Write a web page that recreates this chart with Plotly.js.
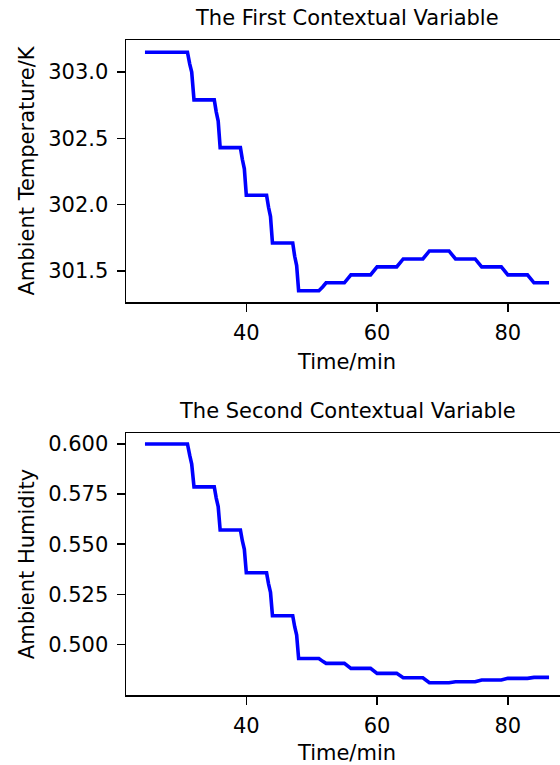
<!DOCTYPE html>
<html>
<head>
<meta charset="utf-8">
<script src="https://cdn.plot.ly/plotly-3.0.1.min.js"></script>
<style>
html, body { margin: 0; padding: 0; overflow: hidden; background: #fff; }
#chart { width: 580px; height: 765px; }
</style>
</head>
<body>
<div id="chart"></div>
<script>
// Time (min)
const timeMin = [24.5, 31, 31.35, 31.65, 32, 35.1, 35.4, 35.7, 36, 39.1, 39.4, 39.7, 40,
  43.1, 43.4, 43.7, 44, 47.1, 47.4, 47.7, 48, 51.1, 51.7, 52.2, 55, 56, 59, 60, 63, 64,
  67, 68, 71, 72, 75, 76, 79, 80, 83, 84, 86.3];

// Ambient temperature (K)
const temperature = [303.15, 303.15, 303.06, 303.00, 302.79, 302.79, 302.70, 302.63, 302.43,
  302.43, 302.34, 302.27, 302.07, 302.07, 301.98, 301.91, 301.71, 301.71, 301.61, 301.54,
  301.35, 301.35, 301.38, 301.41, 301.41, 301.47, 301.47, 301.53, 301.53, 301.59,
  301.59, 301.65, 301.65, 301.59, 301.59, 301.53, 301.53, 301.47, 301.47, 301.41, 301.41];

// Ambient humidity
const humidity = [0.6000, 0.6000, 0.5943, 0.5900, 0.5786, 0.5786, 0.5730, 0.5688, 0.5571,
  0.5571, 0.5516, 0.5474, 0.5357, 0.5357, 0.5302, 0.5260, 0.5143, 0.5143, 0.5088, 0.5046,
  0.4929, 0.4929, 0.4915, 0.4905, 0.4905, 0.4880, 0.4880, 0.4855, 0.4855, 0.4833,
  0.4833, 0.4808, 0.4808, 0.4813, 0.4813, 0.4822, 0.4822, 0.4830, 0.4830, 0.4835, 0.4835];

const xTicks = [40, 60, 80];
const tempTicks = [301.5, 302.0, 302.5, 303.0];
const humTicks = [0.500, 0.525, 0.550, 0.575, 0.600];

const titles = ["The First Contextual Variable", "The Second Contextual Variable"];
const xTitle = "Time/min";
const yTitles = ["Ambient Temperature/K", "Ambient Humidity"];

const FONT = "DejaVu Sans, sans-serif";
const FS = 21;

const line = { color: "#0000ff", width: 3.6 };

const traces = [
  { x: timeMin, y: temperature, type: "scatter", mode: "lines", line: line, xaxis: "x", yaxis: "y", showlegend: false },
  { x: timeMin, y: humidity, type: "scatter", mode: "lines", line: line, xaxis: "x2", yaxis: "y2", showlegend: false }
];

function xAxis(anchor) {
  return {
    anchor: anchor, domain: [0, 1], range: [21.6, 89.2],
    tickvals: xTicks, ticks: "outside", ticklen: 8, tickwidth: 1.4, tickcolor: "#000",
    ticklabelstandoff: 3,
    showline: true, linecolor: "#000", linewidth: 1.5, mirror: true,
    showgrid: false, zeroline: false,
    tickfont: { family: FONT, size: FS, color: "#000" },
    title: { text: xTitle, font: { family: FONT, size: FS, color: "#000" }, standoff: 10 }
  };
}
function yAxis(anchor, domain, range, ticks, fmt, title) {
  return {
    anchor: anchor, domain: domain, range: range,
    tickvals: ticks, tickformat: fmt, ticks: "outside", ticklen: 8, tickwidth: 1.4, tickcolor: "#000",
    ticklabelstandoff: 4,
    showline: true, linecolor: "#000", linewidth: 1.5, mirror: true,
    showgrid: false, zeroline: false,
    tickfont: { family: FONT, size: FS, color: "#000" },
    title: { text: title, font: { family: FONT, size: FS, color: "#000" }, standoff: 8 }
  };
}

const layout = {
  width: 580, height: 765,
  margin: { l: 126, r: 12, t: 40, b: 70 },
  paper_bgcolor: "#fff", plot_bgcolor: "#fff",
  font: { family: FONT, size: FS, color: "#000" },
  xaxis: xAxis("y"),
  yaxis: yAxis("x", [0.6, 1], [301.265, 303.242], tempTicks, ".1f", yTitles[0]),
  xaxis2: xAxis("y2"),
  yaxis2: yAxis("x2", [0, 0.4], [0.4747, 0.6055], humTicks, ".3f", yTitles[1]),
  annotations: [
    { text: titles[0], xref: "paper", yref: "paper", x: 0.5, y: 1, yshift: 8,
      xanchor: "center", yanchor: "bottom", showarrow: false, font: { family: FONT, size: FS, color: "#000" } },
    { text: titles[1], xref: "paper", yref: "paper", x: 0.5, y: 0.4, yshift: 8,
      xanchor: "center", yanchor: "bottom", showarrow: false, font: { family: FONT, size: FS, color: "#000" } }
  ]
};

Plotly.newPlot("chart", traces, layout, { staticPlot: true, displayModeBar: false });
</script>
</body>
</html>
